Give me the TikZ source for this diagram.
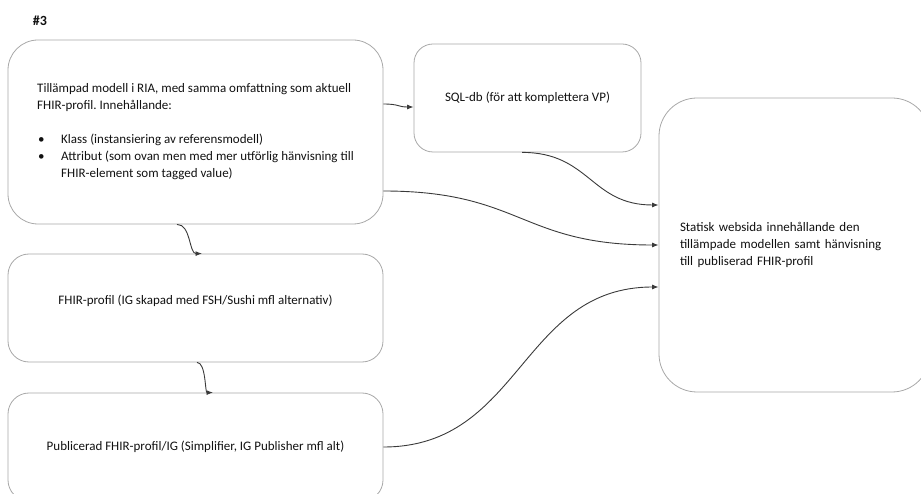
\documentclass[tikz,border=0pt]{standalone}
\usepackage{fontspec}
\setmainfont{Carlito}
\usetikzlibrary{arrows.meta,calc}
\definecolor{boxline}{HTML}{A8A8A8}
\definecolor{connline}{HTML}{3A3A3A}
\definecolor{txt}{HTML}{111111}
\tikzset{
  box/.style={draw=boxline, line width=0.8pt, text=txt, inner sep=0pt,
    font=\fontsize{13}{17}\selectfont},
  conn/.style={draw=connline, line width=0.9pt,
    -{Latex[length=6.5pt,width=5pt]}},
}
\begin{document}
\frenchspacing
\begin{tikzpicture}[x=1pt,y=-1pt]
\useasboundingbox (0,0) rectangle (921,494);

% heading
\node[text=txt, font=\fontsize{14}{16}\selectfont\bfseries] (title) at (40,21) {\#3};

% boxes
\node[box, rounded corners=30pt, minimum width=375pt, minimum height=184pt, align=left]
  (ria) at (195.5,132)
  {Tillämpad modell i RIA, med samma omfattning som aktuell\\
   FHIR-profil. Innehållande:\\[17pt]
   \hspace*{1pt}\makebox[23pt][l]{\textbullet}Klass (instansiering av referensmodell)\\
   \hspace*{1pt}\makebox[23pt][l]{\textbullet}Attribut (som ovan men med mer utförlig hänvisning till\\
   \hspace*{24pt}FHIR-element som tagged value)};

\node[box, rounded corners=19pt, minimum width=227pt, minimum height=108pt]
  (sql) at (527.5,98) {SQL-db (för att komplettera VP)};

\node[box, rounded corners=38pt, minimum width=271pt, minimum height=294pt,
  text width=229pt, inner xsep=21pt, align=left]
  (web) at (794.5,245)
  {Statisk websida innehållande den\\
   tillämpade modellen samt hänvisning\\
   till publiserad FHIR-profil};

\node[box, rounded corners=21pt, minimum width=375pt, minimum height=108pt, text depth=17pt]
  (fhir) at (195.5,308) {FHIR-profil (IG skapad med FSH/Sushi mfl alternativ)};

\node[box, rounded corners=21pt, minimum width=375pt, minimum height=108pt]
  (pub) at (195.5,447) {Publicerad FHIR-profil/IG (Simplifier, IG Publisher mfl alt)};

% connectors
\draw[conn] ($(ria.east)+(0,-28)$) .. controls +(16,0) and +(-16,0) .. ($(sql.west)+(0,9)$);
\draw[conn] ($(sql.south)+(-5.5,0)$) .. controls +(68,0) and +(-68,0) .. ($(web.west)+(0,-40)$);
\draw[conn] ($(ria.east)+(0,59)$) .. controls +(138,0) and +(-138,0) .. (web.west);
\draw[conn] (pub.east) .. controls +(138,0) and +(-138,0) .. ($(web.west)+(0,42)$);
\draw[conn] ($(ria.south)+(-18.5,0)$) .. controls +(14,0) and +(-13,0) .. ($(fhir.north)+(6.5,0)$);
\draw[conn] ($(fhir.south)+(1.5,0)$) .. controls +(9,0) and +(-8,0) .. ($(pub.north)+(17.5,0)$);
\end{tikzpicture}
\end{document}
